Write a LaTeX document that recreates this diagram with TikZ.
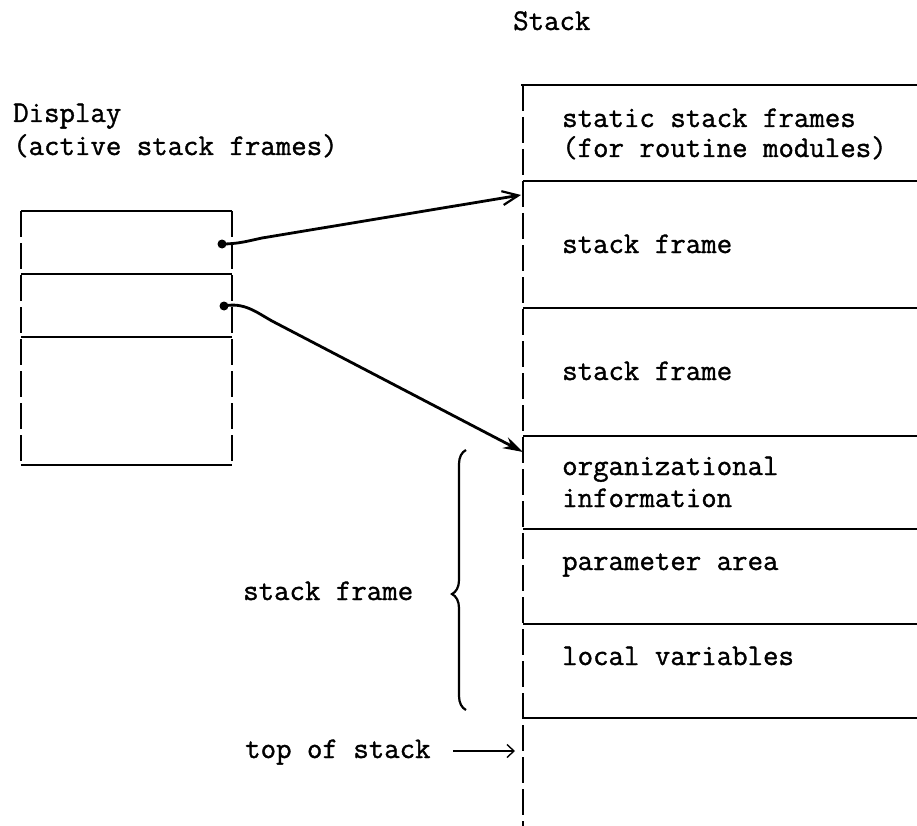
\documentclass[tikz,border=0pt]{standalone}
\usepackage{fontspec}
\newfontfamily\typewriter{Latin Modern Mono}[FakeBold=1.2]
\usetikzlibrary{arrows.meta,decorations.pathreplacing}
\begin{document}
\begin{tikzpicture}[x=1pt,y=-1pt,
  lbl/.style={anchor=base west, inner sep=0pt, font=\fontsize{30}{32}\selectfont\typewriter},
  solidline/.style={line width=1.5pt},
  dashline/.style={line width=1.5pt, dash pattern=on 26pt off 6pt},
  ptrA/.style={line width=2.8pt, -{Straight Barb[length=16pt,width=14pt,line width=2.2pt]}},
  ptrB/.style={line width=2.8pt, -{Stealth[length=20pt,width=12pt]}},
  dotmark/.style={circle, fill=black, inner sep=0pt, minimum size=9pt},
  topptr/.style={line width=1.2pt, -{Straight Barb[length=7pt,width=13pt,line width=1.4pt]}},
  bracestyle/.style={line width=2.2pt, decorate, decoration={brace, amplitude=14pt, aspect=0.446}}
]
\useasboundingbox (0,0) rectangle (917,826);

% ---- titles
\node[lbl] (stacktitle) at (513,30) {Stack};
\node[lbl] (disp1) at (13,122) {Display};
\node[lbl] (disp2) at (13,155) {(active stack frames)};

% ---- stack column
\draw[dashline] (523,85) -- (523,826);
\draw[solidline] (521,85) -- (917,85);
\foreach \yy in {181,308,436,529,624,718}
  \draw[solidline] (523,\yy) -- (917,\yy);

\node[lbl] (s1a) at (562,127) {static stack frames};
\node[lbl] (s1b) at (562,157) {(for routine modules)};
\node[lbl] (s2)  at (562,253) {stack frame};
\node[lbl] (s3)  at (562,380) {stack frame};
\node[lbl] (s4a) at (562,475) {organizational};
\node[lbl] (s4b) at (562,507) {information};
\node[lbl] (s5)  at (562,570) {parameter area};
\node[lbl] (s6)  at (562,665) {local variables};

% ---- display box
\draw[solidline] (21,211) -- (232,211);
\draw[solidline] (21,274) -- (232,274);
\draw[solidline] (21,337) -- (232,337);
\draw[solidline] (21,465) -- (232,465);
\draw[dashline] (21,211) -- (21,465);
\draw[dashline] (232,211) -- (232,465);

% ---- pointers
\node[dotmark] (d1) at (222,244) {};
\node[dotmark] (d2) at (224,306) {};
\coordinate (t1) at (521,195);
\coordinate (t2) at (523,452);
\draw[ptrA] (d1.center) .. controls (238,244) and (248,241) .. (262,238) -- (t1);
\draw[ptrB] (d2.center) .. controls (244,302) and (256,312) .. (272,321) -- (t2);

% ---- brace and labels
\coordinate (bbot) at (466,710);
\coordinate (btop) at (466,450);
\draw[bracestyle] (bbot) -- (btop);
\node[lbl] (sf) at (243,600) {stack frame};
\node[lbl] (tos) at (245,758) {top of stack};
\coordinate (tosStart) at (453,751);
\coordinate (tosEnd) at (515,751);
\draw[topptr] (tosStart) -- (tosEnd);
\end{tikzpicture}
\end{document}
